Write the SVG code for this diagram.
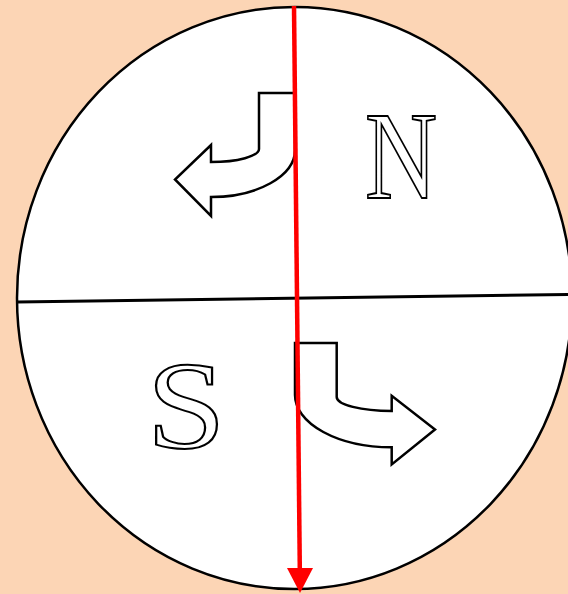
<svg xmlns="http://www.w3.org/2000/svg" width="568" height="594" viewBox="0 0 568 594">
  <style>
    .shape { fill: #ffffff; stroke: #000000; stroke-width: 2.5; stroke-linejoin: miter; }
    .letter { font-family: "Liberation Serif", "Times New Roman", serif; font-size: 125px; fill: #ffffff; stroke: #000000; stroke-width: 2; }
  </style>
  <rect x="0" y="0" width="568" height="594" fill="#fcd5b5"/>
  <g id="disc">
    <ellipse cx="294.5" cy="298" rx="277.5" ry="291" class="shape"/>
  </g>
  <g id="equator">
    <line x1="17" y1="302" x2="568" y2="294.5" stroke="#000" stroke-width="3"/>
  </g>
  <g id="arrow-north">
    <path class="shape" d="M259,93 L295,93 L295,150 A84,47 0 0 1 211,197 L211,216 L175,179.5 L211,145 L211,162 A48,13 0 0 0 259,149 Z"/>
  </g>
  <g id="arrow-south">
    <path class="shape" d="M295,343 L336.7,343 L336.7,397 A55,14 0 0 0 391.7,411 L391.7,395.7 L435,429.5 L391.7,464.5 L391.7,447.3 A96.7,52.3 0 0 1 295,395 Z"/>
  </g>
  <g id="label-N">
    <text class="letter" text-anchor="middle" transform="translate(401,198) scale(0.8,1)">N</text>
  </g>
  <g id="label-S">
    <text class="letter" text-anchor="middle" transform="translate(186,448) scale(1.14,1)">S</text>
  </g>
  <g id="connectors">
    <line x1="294" y1="6" x2="299.8" y2="569" stroke="#ff0000" stroke-width="4.5"/>
    <path d="M287,568 L313,568 L300,593 Z" fill="#ff0000"/>
  </g>
</svg>
